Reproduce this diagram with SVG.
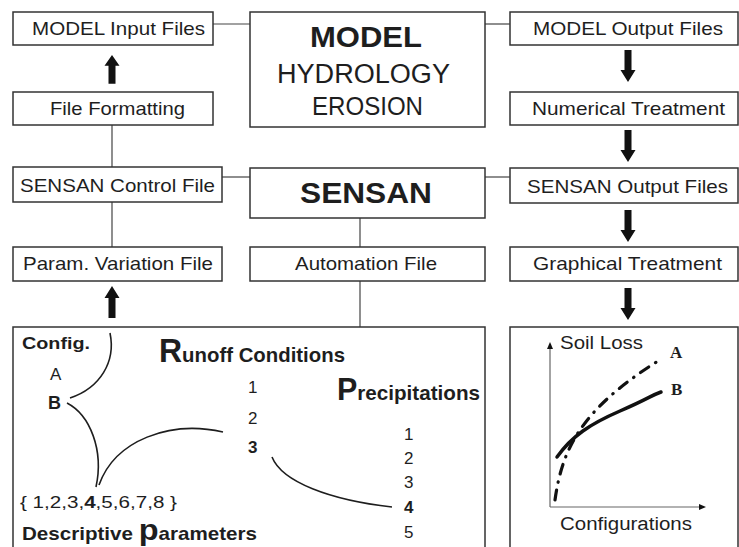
<svg xmlns="http://www.w3.org/2000/svg" width="739" height="547" viewBox="0 0 739 547">
<style>
.box{fill:#fff;stroke:#333;stroke-width:1.5}
.t{font-family:"Liberation Sans",Arial,sans-serif;fill:#1e1e1e}
.n{font-size:19px}
.b{font-weight:bold}
.conn{stroke:#444;stroke-width:1.2;fill:none}
.curve{stroke:#1e1e1e;stroke-width:1.6;fill:none}
.axis{stroke:#666;stroke-width:1.2;fill:none}
.arr{fill:#111}
.serif{font-family:"Liberation Serif","Times New Roman",serif;font-weight:bold;font-size:17px;fill:#1e1e1e}
</style>
<defs>
<path id="arrUp" d="M0,0 L7.5,12 L3.5,12 L3.5,32 L-3.5,32 L-3.5,12 L-7.5,12 Z"/>
<path id="smallUp" d="M0,0 L3,7 L-3,7 Z"/>
</defs>
<rect width="739" height="547" fill="#fff"/>

<g id="connectors">
<line class="conn" x1="213" y1="24" x2="250" y2="24"/>
<line class="conn" x1="485" y1="24" x2="510" y2="24"/>
<line class="conn" x1="112" y1="125" x2="112" y2="167"/>
<line class="conn" x1="222" y1="177" x2="250" y2="177"/>
<line class="conn" x1="485" y1="177" x2="510" y2="177"/>
<line class="conn" x1="112" y1="202" x2="112" y2="247"/>
<line class="conn" x1="360" y1="218" x2="360" y2="247"/>
<line class="conn" x1="360" y1="281" x2="360" y2="327"/>
<use class="arr" href="#arrUp" transform="translate(112,55) scale(1,0.9)"/>
<use class="arr" href="#arrUp" transform="translate(112,286)"/>
<use class="arr" href="#arrUp" transform="translate(628,82) scale(1,-1)"/>
<use class="arr" href="#arrUp" transform="translate(628,162) scale(1,-1)"/>
<use class="arr" href="#arrUp" transform="translate(628,242) scale(1,-1)"/>
<use class="arr" href="#arrUp" transform="translate(628,320) scale(1,-1)"/>
</g>

<g id="model-input">
<rect class="box" x="13" y="12" width="200" height="33"/>
<text class="t n" x="32" y="35" textLength="173" lengthAdjust="spacingAndGlyphs">MODEL Input Files</text>
</g>
<g id="file-formatting">
<rect class="box" x="13" y="92" width="200" height="33"/>
<text class="t n" x="50" y="115" textLength="135" lengthAdjust="spacingAndGlyphs">File Formatting</text>
</g>
<g id="model">
<rect class="box" x="250" y="12" width="235" height="115"/>
<text class="t b" x="310" y="47" font-size="30" textLength="112" lengthAdjust="spacingAndGlyphs">MODEL</text>
<text class="t" x="277" y="83" font-size="27" textLength="173" lengthAdjust="spacingAndGlyphs">HYDROLOGY</text>
<text class="t" x="312" y="115" font-size="26" textLength="111" lengthAdjust="spacingAndGlyphs">EROSION</text>
</g>
<g id="model-output">
<rect class="box" x="510" y="12" width="228" height="33"/>
<text class="t n" x="533" y="35" textLength="190" lengthAdjust="spacingAndGlyphs">MODEL Output Files</text>
</g>
<g id="numerical-treatment">
<rect class="box" x="510" y="92" width="228" height="33"/>
<text class="t n" x="532" y="115" textLength="193" lengthAdjust="spacingAndGlyphs">Numerical Treatment</text>
</g>
<g id="sensan-control">
<rect class="box" x="13" y="167" width="209" height="35"/>
<text class="t n" x="20" y="192" textLength="195" lengthAdjust="spacingAndGlyphs">SENSAN Control File</text>
</g>
<g id="sensan">
<rect class="box" x="250" y="168" width="235" height="50"/>
<text class="t b" x="300" y="203" font-size="30" textLength="132" lengthAdjust="spacingAndGlyphs">SENSAN</text>
</g>
<g id="sensan-output">
<rect class="box" x="510" y="168" width="228" height="35"/>
<text class="t n" x="527" y="193" textLength="201" lengthAdjust="spacingAndGlyphs">SENSAN Output Files</text>
</g>
<g id="param-variation">
<rect class="box" x="13" y="247" width="209" height="34"/>
<text class="t n" x="23" y="270" textLength="190" lengthAdjust="spacingAndGlyphs">Param. Variation File</text>
</g>
<g id="automation">
<rect class="box" x="250" y="247" width="235" height="34"/>
<text class="t n" x="295" y="270" textLength="142" lengthAdjust="spacingAndGlyphs">Automation File</text>
</g>
<g id="graphical-treatment">
<rect class="box" x="510" y="247" width="228" height="34"/>
<text class="t n" x="533" y="270" textLength="189" lengthAdjust="spacingAndGlyphs">Graphical Treatment</text>
</g>

<g id="parameter-space">
<rect class="box" x="13" y="327" width="472" height="240"/>
<text class="t b" x="22" y="349" font-size="17" textLength="68" lengthAdjust="spacingAndGlyphs">Config.</text>
<text class="t" x="50" y="380" font-size="17">A</text>
<text class="t b" x="48" y="409" font-size="18">B</text>
<text class="t b" x="159" y="362" font-size="21" textLength="186" lengthAdjust="spacingAndGlyphs"><tspan font-size="33">R</tspan>unoff Conditions</text>
<text class="t" x="248" y="393" font-size="17">1</text>
<text class="t" x="248" y="424" font-size="17">2</text>
<text class="t b" x="248" y="453" font-size="17">3</text>
<text class="t b" x="337" y="400" font-size="21" textLength="143" lengthAdjust="spacingAndGlyphs"><tspan font-size="31">P</tspan>recipitations</text>
<text class="t" x="404" y="440" font-size="17">1</text>
<text class="t" x="404" y="464" font-size="17">2</text>
<text class="t" x="404" y="488" font-size="17">3</text>
<text class="t b" x="404" y="513" font-size="17">4</text>
<text class="t" x="404" y="538" font-size="17">5</text>
<text class="t" x="20" y="508" font-size="17" textLength="157" lengthAdjust="spacingAndGlyphs">{ 1,2,3,<tspan font-weight="bold">4</tspan>,5,6,7,8 }</text>
<text class="t b" x="22" y="540" font-size="19" textLength="235" lengthAdjust="spacingAndGlyphs">Descriptive <tspan font-size="30">p</tspan>arameters</text>
<path class="curve" d="M110,333 C116,362 100,388 70,398"/>
<path class="curve" d="M67,403 C90,415 104,450 96,487"/>
<path class="curve" d="M99,485 C115,440 170,420 223,432"/>
<path class="curve" d="M272,457 C282,482 330,500 392,507"/>
</g>

<g id="soil-loss-chart">
<rect class="box" x="510" y="327" width="228" height="240"/>
<line class="axis" x1="550" y1="507" x2="550" y2="348"/>
<line class="axis" x1="550" y1="507" x2="700" y2="507"/>
<use class="arr" href="#smallUp" transform="translate(550,342)"/>
<use class="arr" href="#smallUp" transform="translate(706,507) rotate(90)"/>
<text class="t" x="560" y="349" font-size="18" textLength="83" lengthAdjust="spacingAndGlyphs">Soil Loss</text>
<text class="t" x="560" y="530" font-size="18" textLength="132" lengthAdjust="spacingAndGlyphs">Configurations</text>
<text class="serif" x="670" y="358">A</text>
<text class="serif" x="671" y="395">B</text>
<path d="M557,457 C572,436 590,424 620,411 S650,396 661,392" fill="none" stroke="#111" stroke-width="3.5" stroke-linecap="round"/>
<path d="M555,500 C562,450 580,410 658,361" fill="none" stroke="#111" stroke-width="3.2" stroke-linecap="round" stroke-dasharray="10 8 0.5 8"/>
</g>
</svg>
